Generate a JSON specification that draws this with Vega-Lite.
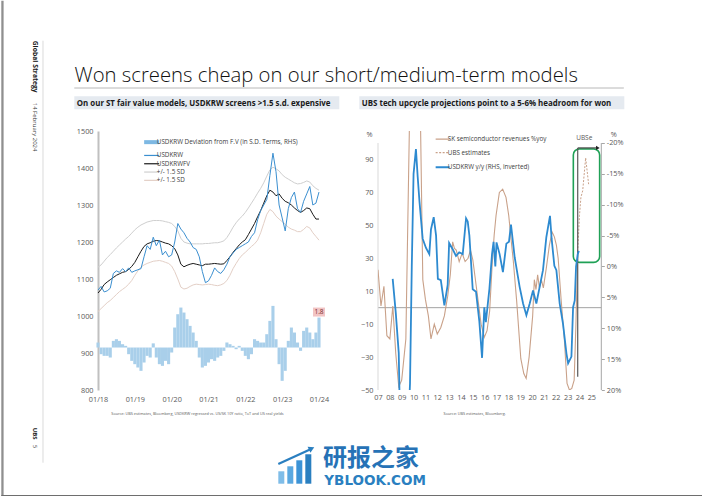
{
"$schema": "https://vega.github.io/schema/vega-lite/v6.json",
"padding": 0,
"background": "white",
"config": {"font": "Open Sans", "view": {"stroke": null}, "axis": {"labelOverlap": false, "labelFlush": false}},
"datasets": {
"krw": [
{"t":2018.000,"krw":1070,"fv":1062,"up":1132,"lo":1012,"dev":0.3},
{"t":2018.083,"krw":1080,"fv":1072,"up":1138,"lo":1020,"dev":-0.4},
{"t":2018.167,"krw":1065,"fv":1085,"up":1148,"lo":1028,"dev":-0.5},
{"t":2018.250,"krw":1068,"fv":1092,"up":1158,"lo":1036,"dev":-0.5},
{"t":2018.333,"krw":1075,"fv":1098,"up":1166,"lo":1042,"dev":-0.6},
{"t":2018.417,"krw":1115,"fv":1104,"up":1175,"lo":1050,"dev":0.4},
{"t":2018.500,"krw":1122,"fv":1110,"up":1184,"lo":1058,"dev":0.5},
{"t":2018.583,"krw":1118,"fv":1114,"up":1192,"lo":1066,"dev":0.4},
{"t":2018.667,"krw":1128,"fv":1118,"up":1200,"lo":1072,"dev":0.2},
{"t":2018.750,"krw":1120,"fv":1120,"up":1208,"lo":1078,"dev":0.1},
{"t":2018.833,"krw":1130,"fv":1126,"up":1215,"lo":1086,"dev":-0.4},
{"t":2018.917,"krw":1118,"fv":1134,"up":1224,"lo":1096,"dev":-0.8},
{"t":2019.000,"krw":1122,"fv":1145,"up":1233,"lo":1110,"dev":-1.0},
{"t":2019.083,"krw":1125,"fv":1160,"up":1240,"lo":1122,"dev":-1.2},
{"t":2019.167,"krw":1128,"fv":1175,"up":1246,"lo":1132,"dev":-1.4},
{"t":2019.250,"krw":1160,"fv":1188,"up":1250,"lo":1138,"dev":-0.9},
{"t":2019.333,"krw":1190,"fv":1195,"up":1254,"lo":1142,"dev":-0.5},
{"t":2019.417,"krw":1180,"fv":1198,"up":1256,"lo":1145,"dev":-0.6},
{"t":2019.500,"krw":1213,"fv":1202,"up":1258,"lo":1148,"dev":0.25},
{"t":2019.583,"krw":1190,"fv":1204,"up":1258,"lo":1149,"dev":-0.6},
{"t":2019.667,"krw":1205,"fv":1203,"up":1258,"lo":1150,"dev":-1.0},
{"t":2019.750,"krw":1165,"fv":1200,"up":1257,"lo":1148,"dev":-1.1},
{"t":2019.833,"krw":1175,"fv":1197,"up":1255,"lo":1145,"dev":-0.8},
{"t":2019.917,"krw":1160,"fv":1195,"up":1253,"lo":1142,"dev":-1.0},
{"t":2020.000,"krw":1165,"fv":1190,"up":1250,"lo":1135,"dev":-0.3},
{"t":2020.083,"krw":1200,"fv":1182,"up":1242,"lo":1120,"dev":1.2},
{"t":2020.167,"krw":1250,"fv":1165,"up":1230,"lo":1100,"dev":2.0},
{"t":2020.250,"krw":1235,"fv":1140,"up":1210,"lo":1078,"dev":2.4},
{"t":2020.333,"krw":1225,"fv":1133,"up":1200,"lo":1073,"dev":2.1},
{"t":2020.417,"krw":1210,"fv":1137,"up":1197,"lo":1075,"dev":1.7},
{"t":2020.500,"krw":1200,"fv":1140,"up":1195,"lo":1080,"dev":1.3},
{"t":2020.583,"krw":1185,"fv":1142,"up":1195,"lo":1084,"dev":0.9},
{"t":2020.667,"krw":1180,"fv":1140,"up":1195,"lo":1086,"dev":0.4},
{"t":2020.750,"krw":1160,"fv":1138,"up":1195,"lo":1085,"dev":-0.6},
{"t":2020.833,"krw":1120,"fv":1136,"up":1195,"lo":1084,"dev":-1.2},
{"t":2020.917,"krw":1090,"fv":1140,"up":1196,"lo":1085,"dev":-1.1},
{"t":2021.000,"krw":1095,"fv":1140,"up":1196,"lo":1086,"dev":-0.9},
{"t":2021.083,"krw":1110,"fv":1141,"up":1197,"lo":1085,"dev":-0.7},
{"t":2021.167,"krw":1130,"fv":1142,"up":1198,"lo":1083,"dev":-0.8},
{"t":2021.250,"krw":1120,"fv":1141,"up":1198,"lo":1082,"dev":-0.6},
{"t":2021.333,"krw":1115,"fv":1140,"up":1200,"lo":1084,"dev":-0.5},
{"t":2021.417,"krw":1125,"fv":1141,"up":1203,"lo":1088,"dev":-0.2},
{"t":2021.500,"krw":1140,"fv":1150,"up":1212,"lo":1096,"dev":0.3},
{"t":2021.583,"krw":1160,"fv":1160,"up":1225,"lo":1110,"dev":0.2},
{"t":2021.667,"krw":1170,"fv":1172,"up":1240,"lo":1128,"dev":0.1},
{"t":2021.750,"krw":1180,"fv":1182,"up":1252,"lo":1142,"dev":-0.1},
{"t":2021.833,"krw":1185,"fv":1192,"up":1262,"lo":1155,"dev":0.1},
{"t":2021.917,"krw":1190,"fv":1200,"up":1270,"lo":1165,"dev":-0.2},
{"t":2022.000,"krw":1195,"fv":1206,"up":1280,"lo":1172,"dev":-0.5},
{"t":2022.083,"krw":1200,"fv":1220,"up":1292,"lo":1180,"dev":-0.7},
{"t":2022.167,"krw":1215,"fv":1235,"up":1305,"lo":1188,"dev":-0.4},
{"t":2022.250,"krw":1225,"fv":1250,"up":1318,"lo":1195,"dev":0.5},
{"t":2022.333,"krw":1260,"fv":1268,"up":1332,"lo":1205,"dev":0.4},
{"t":2022.417,"krw":1285,"fv":1285,"up":1345,"lo":1225,"dev":0.3},
{"t":2022.500,"krw":1300,"fv":1305,"up":1360,"lo":1250,"dev":0.3},
{"t":2022.583,"krw":1315,"fv":1325,"up":1378,"lo":1275,"dev":0.8},
{"t":2022.667,"krw":1380,"fv":1340,"up":1395,"lo":1288,"dev":1.6},
{"t":2022.750,"krw":1440,"fv":1335,"up":1402,"lo":1282,"dev":2.5},
{"t":2022.833,"krw":1390,"fv":1325,"up":1398,"lo":1270,"dev":0.5},
{"t":2022.917,"krw":1300,"fv":1330,"up":1392,"lo":1262,"dev":-1.0},
{"t":2023.000,"krw":1265,"fv":1318,"up":1382,"lo":1255,"dev":-2.0},
{"t":2023.083,"krw":1230,"fv":1310,"up":1375,"lo":1248,"dev":-1.4},
{"t":2023.167,"krw":1290,"fv":1306,"up":1370,"lo":1240,"dev":0.4},
{"t":2023.250,"krw":1320,"fv":1300,"up":1365,"lo":1235,"dev":1.2},
{"t":2023.333,"krw":1335,"fv":1292,"up":1360,"lo":1232,"dev":0.9},
{"t":2023.417,"krw":1290,"fv":1285,"up":1357,"lo":1228,"dev":0.3},
{"t":2023.500,"krw":1280,"fv":1280,"up":1358,"lo":1228,"dev":-0.2},
{"t":2023.583,"krw":1310,"fv":1285,"up":1361,"lo":1234,"dev":1.0},
{"t":2023.667,"krw":1330,"fv":1292,"up":1365,"lo":1242,"dev":1.2},
{"t":2023.750,"krw":1350,"fv":1290,"up":1362,"lo":1238,"dev":0.9},
{"t":2023.833,"krw":1300,"fv":1275,"up":1352,"lo":1225,"dev":0.5},
{"t":2023.917,"krw":1305,"fv":1262,"up":1345,"lo":1215,"dev":0.9},
{"t":2024.000,"krw":1335,"fv":1262,"up":1340,"lo":1205,"dev":1.8}
],
"semi": [
{"t":2007.0,"v":23},{"t":2007.25,"v":1},{"t":2007.5,"v":13},{"t":2007.75,"v":-17},{"t":2008.0,"v":-19},
{"t":2008.25,"v":1},{"t":2008.5,"v":-28},{"t":2008.75,"v":-48},{"t":2009.0,"v":-44},{"t":2009.35,"v":-19},
{"t":2009.65,"v":110},{"t":2010.0,"v":170},{"t":2010.3,"v":160},{"t":2010.55,"v":130},{"t":2010.78,"v":17},
{"t":2011.0,"v":5},{"t":2011.25,"v":-5},{"t":2011.47,"v":-19},{"t":2011.75,"v":-10},{"t":2012.0,"v":-16},
{"t":2012.3,"v":-12},{"t":2012.6,"v":-5},{"t":2012.88,"v":7},{"t":2013.1,"v":20},{"t":2013.3,"v":40},
{"t":2013.45,"v":36},{"t":2013.6,"v":35},{"t":2013.85,"v":28},{"t":2014.1,"v":33},{"t":2014.35,"v":28},
{"t":2014.6,"v":30},{"t":2014.8,"v":35},{"t":2015.0,"v":29},{"t":2015.2,"v":18},{"t":2015.45,"v":4},
{"t":2015.7,"v":-10},{"t":2015.97,"v":-18},{"t":2016.2,"v":-14},{"t":2016.42,"v":-2},{"t":2016.63,"v":26},
{"t":2016.8,"v":44},{"t":2016.96,"v":56},{"t":2017.24,"v":70},{"t":2017.52,"v":72},{"t":2017.8,"v":67},
{"t":2018.03,"v":56},{"t":2018.22,"v":42},{"t":2018.42,"v":28},{"t":2018.7,"v":4},{"t":2019.05,"v":-31},
{"t":2019.3,"v":-40},{"t":2019.5,"v":-43},{"t":2019.75,"v":-30},{"t":2020.05,"v":-5},{"t":2020.19,"v":17},
{"t":2020.33,"v":11},{"t":2020.47,"v":20},{"t":2020.62,"v":12},{"t":2020.78,"v":17},{"t":2020.95,"v":12},
{"t":2021.2,"v":24},{"t":2021.46,"v":38},{"t":2021.69,"v":46},{"t":2021.88,"v":43},{"t":2022.05,"v":38},
{"t":2022.2,"v":30},{"t":2022.45,"v":5},{"t":2022.72,"v":-19},{"t":2022.95,"v":-46},{"t":2023.15,"v":-50},
{"t":2023.35,"v":-49},{"t":2023.55,"v":-44},{"t":2023.7,"v":-10},{"t":2023.85,"v":34}
],
"est": [
{"t":2023.85,"v":34},{"t":2024.0,"v":56},{"t":2024.12,"v":67},{"t":2024.27,"v":71},{"t":2024.52,"v":91},{"t":2024.77,"v":75}
],
"usd": [
{"t":2008.24,"v":2},{"t":2008.5,"v":7.5},{"t":2008.75,"v":14},{"t":2009.0,"v":40},{"t":2009.25,"v":45},
{"t":2009.5,"v":28},{"t":2009.7,"v":19},{"t":2009.85,"v":0},{"t":2010.0,"v":-15},{"t":2010.2,"v":-19},
{"t":2010.35,"v":-14.5},{"t":2010.5,"v":-10.5},{"t":2010.77,"v":-4.5},{"t":2011.05,"v":-3},{"t":2011.33,"v":-2},
{"t":2011.47,"v":-6},{"t":2011.7,"v":-8},{"t":2011.9,"v":-5},{"t":2012.05,"v":2},{"t":2012.3,"v":2.2},
{"t":2012.6,"v":6.3},{"t":2012.88,"v":3},{"t":2013.0,"v":-3.8},{"t":2013.3,"v":-2.8},{"t":2013.58,"v":-1.7},
{"t":2013.85,"v":-2.3},{"t":2014.15,"v":-2},{"t":2014.43,"v":-7.8},{"t":2014.57,"v":-7.3},{"t":2014.71,"v":-5},
{"t":2014.85,"v":-0.7},{"t":2014.99,"v":3.7},{"t":2015.27,"v":4.1},{"t":2015.55,"v":8.9},{"t":2015.78,"v":14.8},
{"t":2015.97,"v":6.6},{"t":2016.1,"v":9},{"t":2016.4,"v":3.6},{"t":2016.62,"v":-2},{"t":2016.75,"v":-4},
{"t":2016.9,"v":0},{"t":2017.0,"v":-3.9},{"t":2017.26,"v":-2},{"t":2017.54,"v":0.9},{"t":2017.83,"v":-3.7},
{"t":2018.05,"v":-4},{"t":2018.22,"v":-6.8},{"t":2018.53,"v":-1.5},{"t":2018.95,"v":3.3},{"t":2019.24,"v":6},
{"t":2019.52,"v":7.9},{"t":2019.8,"v":6},{"t":2020.08,"v":3.9},{"t":2020.36,"v":6},{"t":2020.64,"v":3.3},
{"t":2020.92,"v":0.6},{"t":2021.2,"v":-4.7},{"t":2021.51,"v":-8.2},{"t":2021.65,"v":-4.5},{"t":2021.88,"v":-0.1},
{"t":2022.05,"v":0.6},{"t":2022.33,"v":6},{"t":2022.61,"v":9.3},{"t":2022.9,"v":14.1},{"t":2023.04,"v":15.7},
{"t":2023.32,"v":14.6},{"t":2023.46,"v":6.6},{"t":2023.6,"v":5.5},{"t":2023.71,"v":0},{"t":2023.85,"v":-2},
{"t":2023.95,"v":-2.5}
]
},
"bounds": "flush",
"spacing": 54,
"resolve": {"scale": {"x": "independent", "y": "independent", "color": "independent"}, "legend": {"color": "independent"}},
"hconcat": [
{
"width": 226, "height": 259,
"data": {"name": "krw"},
"layer": [
 {"layer": [
  {"data": {"values": [{}]}, "mark": {"type": "rect", "color": "#8f8f8f"},
   "encoding": {"x": {"datum": 2015.3744, "scale": {"domain": [2018, 2024.136], "nice": false, "zero": false, "padding": 0}, "axis": null}, "x2": {"datum": 2015.4369},
    "y": {"datum": 1852.2, "scale": {"domain": [800, 1500], "nice": false, "zero": false}, "axis": null}, "y2": {"datum": 511.6}}},
  {"data": {"values": [{}]}, "mark": {"type": "rule", "color": "#6e6e6e", "strokeWidth": 1.2},
   "encoding": {"x": {"datum": 2015.3744, "axis": null}, "x2": {"datum": 2034.435}, "y": {"datum": 514.3, "axis": null}}},
  {"data": {"values": [{}]}, "mark": {"type": "rect", "color": "#e5eaf0"},
   "encoding": {"x": {"datum": 2017.3565, "axis": null}, "x2": {"datum": 2024.5518}, "y": {"datum": 1594.05, "axis": null}, "y2": {"datum": 1558.92}}},
  {"data": {"values": [{}]}, "mark": {"type": "rect", "color": "#e5eaf0"},
   "encoding": {"x": {"datum": 2025.0948, "axis": null}, "x2": {"datum": 2032.2901}, "y": {"datum": 1594.05, "axis": null}, "y2": {"datum": 1558.92}}},
  {"data": {"values": [{}]}, "mark": {"type": "rule", "color": "#a6a6a6", "strokeWidth": 0.8},
   "encoding": {"x": {"datum": 2017.3565, "axis": null}, "x2": {"datum": 2032.2765}, "y": {"datum": 1616.2, "axis": null}}},
  {"data": {"values": [{}]}, "mark": {"type": "text", "align": "left", "baseline": "alphabetic", "fontSize": 20.3, "fontWeight": 300, "color": "#111111"},
   "encoding": {"x": {"datum": 2017.3647, "axis": null}, "y": {"datum": 1631.35, "axis": null}, "text": {"value": "Won screens cheap on our short/medium-term models"}}},
  {"data": {"values": [{}]}, "mark": {"type": "text", "align": "left", "baseline": "alphabetic", "fontSize": 7.9, "fontWeight": "bold", "color": "#1a1a1a"},
   "encoding": {"x": {"datum": 2017.4244, "axis": null}, "y": {"datum": 1568.38, "axis": null}, "text": {"value": "On our ST fair value models, USDKRW screens >1.5 s.d. expensive"}}},
  {"data": {"values": [{}]}, "mark": {"type": "text", "align": "left", "baseline": "alphabetic", "fontSize": 7.9, "fontWeight": "bold", "color": "#1a1a1a"},
   "encoding": {"x": {"datum": 2025.1626, "axis": null}, "y": {"datum": 1568.38, "axis": null}, "text": {"value": "UBS tech upcycle projections point to a 5-6% headroom for won"}}},
  {"data": {"values": [{}]}, "mark": {"type": "rule", "color": "#d0d0d0", "strokeWidth": 0.8},
   "encoding": {"x": {"datum": 2016.5066, "axis": null}, "y": {"datum": 1744.05, "axis": null}, "y2": {"datum": 603.51}}},
  {"data": {"values": [{}]}, "mark": {"type": "text", "align": "left", "baseline": "middle", "angle": 90, "fontSize": 6.8, "fontWeight": "bold", "color": "#1a1a1a"},
   "encoding": {"x": {"datum": 2016.2786, "axis": null}, "y": {"datum": 1744.05, "axis": null}, "text": {"value": "Global Strategy"}}},
  {"data": {"values": [{}]}, "mark": {"type": "text", "align": "left", "baseline": "middle", "angle": 90, "fontSize": 6, "color": "#404040"},
   "encoding": {"x": {"datum": 2016.2786, "axis": null}, "y": {"datum": 1576.49, "axis": null}, "text": {"value": "14 February 2024"}}},
  {"data": {"values": [{}]}, "mark": {"type": "text", "align": "left", "baseline": "middle", "angle": 90, "fontSize": 6, "fontWeight": "bold", "color": "#1a1a1a"},
   "encoding": {"x": {"datum": 2016.2786, "axis": null}, "y": {"datum": 698.11, "axis": null}, "text": {"value": "UBS"}}},
  {"data": {"values": [{}]}, "mark": {"type": "text", "align": "left", "baseline": "middle", "angle": 90, "fontSize": 6, "color": "#404040"},
   "encoding": {"x": {"datum": 2016.2786, "axis": null}, "y": {"datum": 652.16, "axis": null}, "text": {"value": "5"}}},
  {"data": {"values": [{}]}, "mark": {"type": "text", "align": "left", "baseline": "alphabetic", "fontSize": 3.8, "color": "#595959"},
   "encoding": {"x": {"datum": 2018.3611, "axis": null}, "y": {"datum": 733.24, "axis": null}, "text": {"value": "Source:   UBS estimates, Bloomberg, USDKRW regressed vs. US/SK 10Y ratio, ToT and US real yields"}}},
  {"data": {"values": [{}]}, "mark": {"type": "text", "align": "left", "baseline": "alphabetic", "fontSize": 3.8, "color": "#595959"},
   "encoding": {"x": {"datum": 2027.3837, "axis": null}, "y": {"datum": 733.24, "axis": null}, "text": {"value": "Source:   UBS estimates, Bloomberg."}}},
  {"data": {"values": [{}]}, "mark": {"type": "rect", "color": "#7fbde8"},
   "encoding": {"x": {"datum": 2022.8955, "axis": null}, "x2": {"datum": 2023.0584}, "y": {"datum": 580.3, "axis": null}, "y2": {"datum": 546.75}}},
  {"data": {"values": [{}]}, "mark": {"type": "rect", "color": "#5aa8e0"},
   "encoding": {"x": {"datum": 2023.1398, "axis": null}, "x2": {"datum": 2023.3027}, "y": {"datum": 593.8, "axis": null}, "y2": {"datum": 546.75}}},
  {"data": {"values": [{}]}, "mark": {"type": "rect", "color": "#3c93d6"},
   "encoding": {"x": {"datum": 2023.3842, "axis": null}, "x2": {"datum": 2023.5471}, "y": {"datum": 610.0, "axis": null}, "y2": {"datum": 546.75}}},
  {"data": {"values": [{}]}, "mark": {"type": "rect", "color": "#2a7fc0"},
   "encoding": {"x": {"datum": 2023.6286, "axis": null}, "x2": {"datum": 2023.7915}, "y": {"datum": 626.3, "axis": null}, "y2": {"datum": 546.75}}},
  {"data": {"values": [{}]}, "mark": {"type": "rule", "color": "#2a7fc0", "strokeWidth": 2.2},
   "encoding": {"x": {"datum": 2022.8955, "axis": null}, "x2": {"datum": 2023.77}, "y": {"datum": 600.0, "axis": null}, "y2": {"datum": 640.0}}},
  {"data": {"values": [{}]}, "mark": {"type": "point", "shape": "triangle-up", "angle": 65, "size": 45, "filled": true, "color": "#2a7fc0", "opacity": 1},
   "encoding": {"x": {"datum": 2023.8, "axis": null}, "y": {"datum": 642.0, "axis": null}}},
  {"data": {"values": [{}]}, "mark": {"type": "text", "align": "left", "baseline": "alphabetic", "fontSize": 24, "font": "Noto Sans CJK SC", "fontWeight": "bold", "color": "#2672b6"},
   "encoding": {"x": {"datum": 2024.1092, "axis": null}, "y": {"datum": 594.05, "axis": null}, "text": {"value": "研报之家"}}},
  {"data": {"values": [{}]}, "mark": {"type": "text", "align": "left", "baseline": "alphabetic", "fontSize": 13.5, "font": "DejaVu Sans", "fontWeight": "bold", "color": "#2a7fc0"},
   "encoding": {"x": {"datum": 2024.1445, "axis": null}, "y": {"datum": 544.06, "axis": null}, "text": {"value": "YBLOOK.COM"}}}
 ]},
 {"layer": [
  {"mark": {"type": "bar", "width": 3.1, "color": "#a9cfea"},
   "encoding": {
    "x": {"field": "t", "type": "quantitative", "scale": {"domain": [2018, 2024.136], "nice": false, "zero": false, "padding": 0}, "axis": null},
    "y": {"field": "dev", "type": "quantitative", "scale": {"domain": [-2.55, 13], "nice": false, "zero": false}, "axis": null}, "y2": {"datum": 0}}},
  {"transform": [{"filter": "datum.t >= 2024"}],
   "mark": {"type": "point", "shape": "M-1,-0.75H1V0.75H-1Z", "size": 144, "filled": true, "color": "#f2c4c4", "opacity": 1, "yOffset": -5.5},
   "encoding": {"x": {"field": "t", "type": "quantitative", "axis": null}, "y": {"field": "dev", "type": "quantitative", "axis": null}}},
  {"transform": [{"filter": "datum.t >= 2024"}],
   "mark": {"type": "text", "fontSize": 6.5, "color": "#7a2e2e", "baseline": "middle", "yOffset": -5.5},
   "encoding": {"x": {"field": "t", "type": "quantitative", "axis": null}, "y": {"field": "dev", "type": "quantitative", "axis": null}, "text": {"field": "dev", "type": "quantitative", "format": ".1f"}}}
 ]},
 {"layer": [
  {"mark": {"type": "line", "strokeWidth": 1},
   "encoding": {"x": {"field": "t", "type": "quantitative", "scale": {"domain": [2018, 2024.136], "nice": false, "zero": false, "padding": 0}, "axis": null},
    "y": {"field": "up", "type": "quantitative", "scale": {"domain": [800, 1500], "nice": false, "zero": false}, "axis": null},
    "color": {"datum": "+/- 1.5 SD",
     "scale": {"domain": ["USDKRW Deviation from F.V (in S.D. Terms, RHS)", "USDKRW", "USDKRWFV", "+/- 1.5 SD", "+/- 1.5 SD "], "range": ["#7db8e3", "#3b8fd0", "#1a1a1a", "#cfcfcf", "#e3cfc6"]},
     "legend": {"orient": "none", "legendX": 50.5, "legendY": 8, "title": null, "symbolType": "stroke", "symbolSize": 225, "symbolStrokeWidth": 1.2, "labelFontSize": 6.3, "labelColor": "#404040", "labelOffset": 2, "rowPadding": 1.3, "padding": 0, "labelLimit": 400,
      "encode": {"symbols": {"update": {"strokeWidth": {"signal": "datum.value === 'USDKRW Deviation from F.V (in S.D. Terms, RHS)' ? 4 : 1.2"}}}}}}}},
  {"mark": {"type": "line", "strokeWidth": 1},
   "encoding": {"x": {"field": "t", "type": "quantitative", "axis": null}, "y": {"field": "lo", "type": "quantitative", "axis": null}, "color": {"datum": "+/- 1.5 SD "}}},
  {"mark": {"type": "line", "strokeWidth": 1},
   "encoding": {"x": {"field": "t", "type": "quantitative", "axis": null}, "y": {"field": "fv", "type": "quantitative", "axis": null}, "color": {"datum": "USDKRWFV"}}}
 ]},
 {"mark": {"type": "line", "strokeWidth": 1},
  "encoding": {
   "x": {"field": "t", "type": "quantitative", "scale": {"domain": [2018, 2024.136], "nice": false, "zero": false, "padding": 0},
     "axis": {"values": [2018,2019,2020,2021,2022,2023,2024], "labelExpr": "'01/' + slice(toString(datum.value), 2)", "labelOverlap": false, "labelFlush": false, "title": null, "grid": false, "ticks": false, "domain": false, "labelFontSize": 7.3, "labelColor": "#595959", "labelPadding": 5}},
   "y": {"field": "krw", "type": "quantitative", "scale": {"domain": [800, 1500], "nice": false, "zero": false},
     "axis": {"orient": "left", "values": [800,900,1000,1100,1200,1300,1400,1500], "format": "d", "labelOverlap": false, "labelFlush": false, "title": null, "grid": false, "ticks": false, "domain": true, "domainColor": "#c0c0c0", "domainWidth": 2, "labelFontSize": 7.3, "labelColor": "#595959", "labelPadding": 5}},
   "color": {"datum": "USDKRW"}}}
],
"resolve": {"scale": {"x": "independent", "y": "independent"}}
},
{
"width": 223.3, "height": 259,
"layer": [
 {"layer": [
  {"data": {"values": [{}]}, "mark": {"type": "rule", "color": "#8c8c8c", "strokeWidth": 0.8},
   "encoding": {"x": {"datum": 2007, "scale": {"domain": [2007, 2025.84], "nice": false, "zero": false, "padding": 0}, "axis": null}, "x2": {"datum": 2025.84},
    "y": {"datum": 0, "scale": {"domain": [-50, 107.29], "nice": false, "zero": false}, "axis": null}}},
  {"data": {"values": [{}]}, "mark": {"type": "rule", "color": "#d9d9d9", "strokeWidth": 1},
   "encoding": {"x": {"datum": 2007, "axis": null}, "y": {"datum": -50, "axis": null}, "y2": {"datum": 100}}},
  {"data": {"values": [{}]}, "mark": {"type": "rule", "color": "#a6a6a6", "strokeWidth": 1},
   "encoding": {"x": {"datum": 2025.84, "axis": null}, "y": {"datum": -50, "axis": null}, "y2": {"datum": 100}}},
  {"data": {"values": [{}]}, "mark": {"type": "rect", "filled": false, "color": "#1fa156", "strokeWidth": 1.6, "cornerRadius": 6},
   "encoding": {"x": {"datum": 2023.48, "axis": null}, "x2": {"datum": 2025.7}, "y": {"datum": 96.4, "axis": null}, "y2": {"datum": 27.5}}}
 ]},
 {"data": {"name": "semi"}, "mark": {"type": "line", "clip": true, "strokeWidth": 1.1},
  "encoding": {
   "x": {"field": "t", "type": "quantitative", "scale": {"domain": [2007, 2025.84], "nice": false, "zero": false, "padding": 0},
     "axis": {"values": [2007,2008,2009,2010,2011,2012,2013,2014,2015,2016,2017,2018,2019,2020,2021,2022,2023,2024,2025], "labelExpr": "slice(toString(datum.value), 2)", "labelOverlap": false, "labelFlush": false, "title": null, "grid": false, "ticks": false, "domain": false, "labelFontSize": 7.3, "labelColor": "#595959", "labelPadding": 3}},
   "y": {"field": "v", "type": "quantitative", "scale": {"domain": [-50, 107.29], "nice": false, "zero": false},
     "axis": {"orient": "left", "values": [-50,-30,-10,10,30,50,70,90], "format": "d", "labelOverlap": false, "labelFlush": false, "title": "%", "titleAngle": 0, "titleX": -9, "titleY": 3, "titleAlign": "center", "titleBaseline": "middle", "titleFontSize": 7.3, "titleFontWeight": "normal", "titleColor": "#595959", "grid": false, "ticks": false, "domain": false, "labelFontSize": 7.3, "labelColor": "#595959", "labelPadding": 5}},
   "color": {"datum": "SK semiconductor revenues %yoy",
     "scale": {"domain": ["SK semiconductor revenues %yoy", "UBS estimates", "USDKRW y/y (RHS, inverted)"], "range": ["#c9a189", "#c9a189", "#2d8ad0"]},
     "legend": {"orient": "none", "legendX": 61.5, "legendY": 5, "title": null, "symbolType": "stroke", "symbolSize": 196, "symbolStrokeWidth": 1.2, "labelFontSize": 6.3, "labelColor": "#404040", "labelOffset": 2, "rowPadding": 6.5, "padding": 0, "labelLimit": 300,
      "encode": {"symbols": {"update": {"strokeWidth": {"signal": "datum.value === 'USDKRW y/y (RHS, inverted)' ? 2 : 1.2"}, "strokeDash": {"signal": "datum.value === 'UBS estimates' ? [2, 1.5] : [1, 0]"}}}}}}}},
 {"layer": [
  {"data": {"name": "est"}, "mark": {"type": "line", "clip": true, "strokeWidth": 1, "strokeDash": [2, 1.5]},
   "encoding": {"x": {"field": "t", "type": "quantitative", "scale": {"domain": [2007, 2025.84], "nice": false, "zero": false, "padding": 0}, "axis": null},
    "y": {"field": "v", "type": "quantitative", "scale": {"domain": [-50, 107.29], "nice": false, "zero": false}, "axis": null}, "color": {"datum": "UBS estimates"}}},
  {"data": {"values": [{}]}, "mark": {"type": "rule", "color": "#595959", "strokeWidth": 1.2},
   "encoding": {"x": {"datum": 2023.85, "axis": null}, "y": {"datum": -42, "axis": null}, "y2": {"datum": 97}}},
  {"data": {"values": [{}]}, "mark": {"type": "rule", "color": "#222222", "strokeWidth": 1},
   "encoding": {"x": {"datum": 2023.85, "axis": null}, "x2": {"datum": 2025.45}, "y": {"datum": 97, "axis": null}}},
  {"data": {"values": [{}]}, "mark": {"type": "point", "shape": "triangle-right", "size": 18, "filled": true, "color": "#222222", "opacity": 1},
   "encoding": {"x": {"datum": 2025.55, "axis": null}, "y": {"datum": 97, "axis": null}}},
  {"data": {"values": [{}]}, "mark": {"type": "text", "fontSize": 6.5, "color": "#595959", "baseline": "middle"},
   "encoding": {"x": {"datum": 2024.4, "axis": null}, "y": {"datum": 103.2, "axis": null}, "text": {"value": "UBSe"}}}
 ]},
 {"data": {"name": "usd"}, "mark": {"type": "line", "clip": true, "strokeWidth": 1.8},
  "encoding": {"x": {"field": "t", "type": "quantitative", "scale": {"domain": [2007, 2025.84], "nice": false, "zero": false, "padding": 0}, "axis": null},
   "y": {"field": "v", "type": "quantitative", "scale": {"domain": [-21.94, 20], "reverse": true, "nice": false, "zero": false},
     "axis": {"orient": "right", "values": [-20,-15,-10,-5,0,5,10,15,20], "labelExpr": "datum.value + '%'", "labelOverlap": false, "labelFlush": false, "title": "%", "titleAngle": 0, "titleX": 12, "titleY": 3, "titleAlign": "center", "titleBaseline": "middle", "titleFontSize": 7.3, "titleFontWeight": "normal", "titleColor": "#595959", "grid": false, "ticks": true, "tickSize": 3, "tickColor": "#a6a6a6", "domain": false, "labelFontSize": 7.3, "labelColor": "#595959", "labelPadding": 2}},
   "color": {"datum": "USDKRW y/y (RHS, inverted)"}}}
],
"resolve": {"scale": {"x": "independent", "y": "independent"}}
}
]
}
